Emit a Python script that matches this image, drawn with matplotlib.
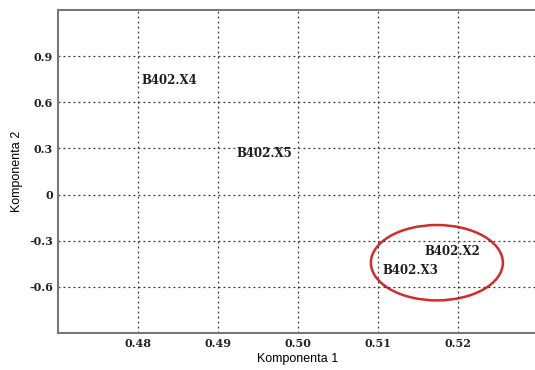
import numpy as np
import matplotlib.pyplot as plt
from matplotlib.patches import Ellipse

# sample labels and their coordinates (component 1, component 2)
names = ["B402.X4", "B402.X5", "B402.X2", "B402.X3"]
comp1 = [0.4805, 0.4924, 0.5159, 0.5106]
comp2 = [0.74, 0.265, -0.372, -0.496]

xticks = [0.48, 0.49, 0.50, 0.51, 0.52]
xtick_labels = ["0.48", "0.49", "0.50", "0.51", "0.52"]
yticks = [0.9, 0.6, 0.3, 0, -0.3, -0.6]
ytick_labels = ["0.9", "0.6", "0.3", "0", "-0.3", "-0.6"]

fig = plt.figure(figsize=(5.35, 3.7), dpi=100)
ax = fig.add_axes([0.108, 0.1, 0.897, 0.873])

for n, x, y in zip(names, comp1, comp2):
    ax.text(x, y, n, fontfamily="DejaVu Serif", fontweight="bold",
            fontsize=8.5, va="center", ha="left", color="#1e1e1e")

# highlight ellipse around the X2/X3 cluster
ax.add_patch(Ellipse((0.5174, -0.443), 0.0165, 0.49, fill=False,
                     edgecolor="#d42a2a", linewidth=1.8))

ax.set_xlim(0.47, 0.53)
ax.set_ylim(-0.9, 1.2)
ax.set_xticks(xticks)
ax.set_xticklabels(xtick_labels)
ax.set_yticks(yticks)
ax.set_yticklabels(ytick_labels)
for lab in ax.get_xticklabels() + ax.get_yticklabels():
    lab.set_fontfamily("DejaVu Serif")
    lab.set_fontweight("bold")
    lab.set_fontsize(8)
    lab.set_color("#222222")
ax.tick_params(length=0, pad=3.5)

ax.grid(True, linestyle=(0, (1.5, 2.5)), color="#333333", linewidth=0.9)
for s in ["left", "bottom", "top"]:
    ax.spines[s].set_color("#777777")
    ax.spines[s].set_linewidth(1.5)
ax.spines["right"].set_visible(False)

ax.set_xlabel("Komponenta 1", fontfamily="Liberation Sans", fontsize=9, labelpad=3)
ax.set_ylabel("Komponenta 2", fontfamily="Liberation Sans", fontsize=9, labelpad=4)

fig.savefig("out.png", dpi=100)
